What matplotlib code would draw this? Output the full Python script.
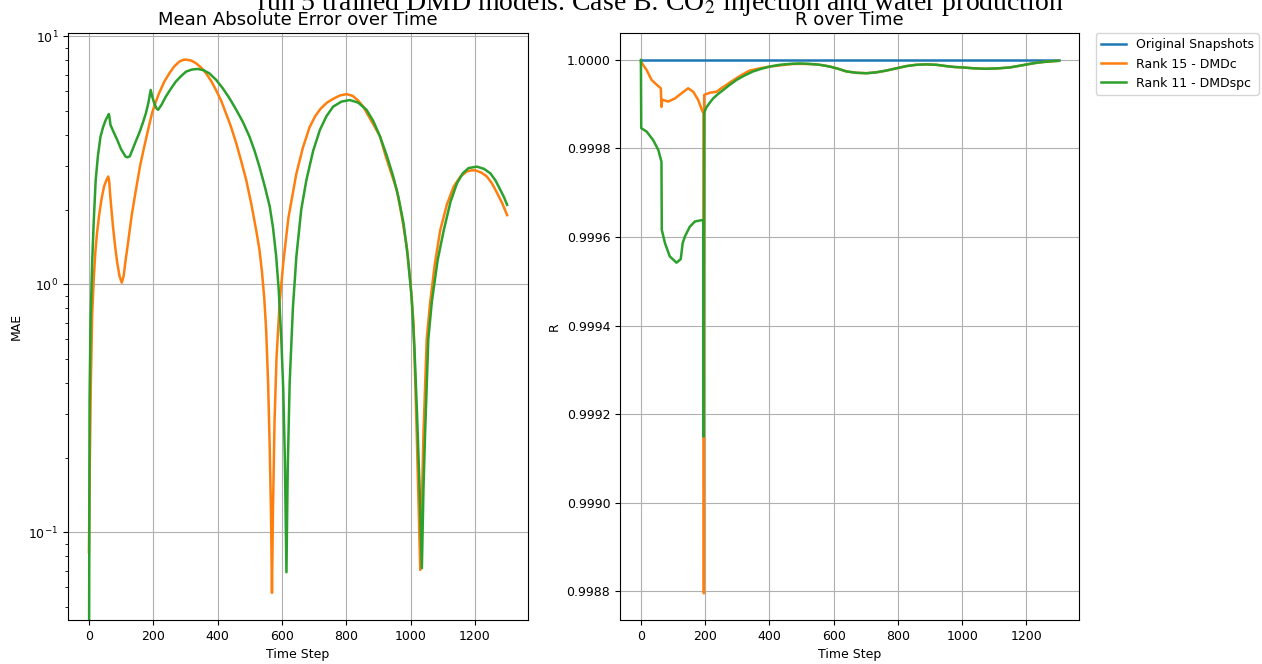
import matplotlib
matplotlib.use("Agg")
import matplotlib.pyplot as plt
from matplotlib.ticker import FormatStrFormatter

plt.rcParams['mathtext.fontset'] = 'stix'

# MAE per time step, rank 15 DMDc
mae_t_dmdc = [0, 3, 6, 10, 15, 20, 25, 31, 39, 47, 54, 60, 63, 66, 70, 75, 82, 88, 95, 102,
              108, 114, 120, 133, 146, 159, 172, 184, 196, 207, 218, 234, 250, 265, 281, 292,
              302, 318, 333, 349, 364, 380, 395, 411, 426, 442, 458, 473, 489, 505, 520, 530,
              538, 545, 551, 557, 562, 566, 569, 572, 577, 583, 593, 605, 620, 645, 665, 686,
              703, 720, 740, 760, 780, 801, 820, 837, 853, 870, 887, 905, 922, 940, 957, 972,
              988, 1000, 1009, 1019, 1030, 1040, 1050, 1061, 1075, 1092, 1113, 1134, 1155,
              1175, 1190, 1201, 1220, 1237, 1253, 1269, 1285, 1300]
mae_dmdc = [0.083, 0.20, 0.40, 0.75, 1.05, 1.35, 1.60, 1.87, 2.20, 2.48, 2.62, 2.72, 2.60, 2.30,
            2.00, 1.70, 1.40, 1.22, 1.08, 1.015, 1.08, 1.25, 1.42, 1.90, 2.40, 3.00, 3.59, 4.20,
            4.89, 5.40, 5.89, 6.55, 7.09, 7.55, 7.90, 8.02, 8.05, 7.98, 7.78, 7.47, 7.09, 6.60,
            6.07, 5.50, 4.89, 4.30, 3.70, 3.15, 2.63, 2.10, 1.65, 1.38, 1.12, 0.88, 0.65, 0.40,
            0.22, 0.12, 0.057, 0.12, 0.28, 0.50, 0.85, 1.25, 1.85, 2.80, 3.55, 4.30, 4.75,
            5.10, 5.40, 5.60, 5.77, 5.84, 5.75, 5.50, 5.20, 4.75, 4.35, 3.94, 3.30, 2.80, 2.40,
            1.90, 1.42, 1.00, 0.70, 0.25, 0.0705, 0.25, 0.60, 0.85, 1.20, 1.65, 2.10, 2.48,
            2.72, 2.85, 2.88, 2.88, 2.82, 2.72, 2.55, 2.33, 2.12, 1.90]

# MAE per time step, rank 11 DMDspc
mae_t_dmdspc = [0, 2, 5, 10, 15, 21, 28, 36, 44, 52, 58, 62, 64, 67, 77, 88, 100, 114, 120,
                127, 135, 145, 156, 167, 177, 185, 192, 197, 203, 210, 215, 226, 239, 255, 270,
                286, 302, 320, 338, 356, 374, 395, 416, 437, 458, 479, 499, 515, 530, 546, 562,
                572, 582, 590, 598, 604, 609, 614, 618, 624, 634, 645, 660, 676, 697, 718, 738,
                759, 785, 811, 837, 863, 884, 905, 926, 946, 962, 978, 991, 1003, 1012, 1020,
                1028, 1035, 1040, 1045, 1055, 1066, 1084, 1103, 1124, 1144, 1162, 1180, 1206,
                1228, 1248, 1264, 1279, 1290, 1300]
mae_dmdspc = [0.02, 0.34, 0.70, 1.22, 1.80, 2.63, 3.30, 3.94, 4.30, 4.59, 4.75, 4.86, 4.70,
              4.39, 4.10, 3.82, 3.50, 3.27, 3.25, 3.28, 3.48, 3.75, 4.06, 4.45, 4.89, 5.40,
              6.07, 5.70, 5.37, 5.12, 5.05, 5.30, 5.71, 6.15, 6.56, 6.90, 7.20, 7.34, 7.38,
              7.30, 7.09, 6.68, 6.17, 5.62, 5.05, 4.50, 3.94, 3.45, 2.98, 2.50, 2.06, 1.70,
              1.30, 0.95, 0.60, 0.38, 0.20, 0.069, 0.18, 0.40, 0.80, 1.30, 2.00, 2.63, 3.45,
              4.19, 4.75, 5.20, 5.45, 5.53, 5.40, 5.05, 4.55, 3.94, 3.30, 2.72, 2.25, 1.76,
              1.30, 0.89, 0.55, 0.30, 0.15, 0.0716, 0.15, 0.25, 0.60, 0.85, 1.25, 1.65, 2.15,
              2.55, 2.80, 2.94, 2.98, 2.92, 2.80, 2.62, 2.40, 2.25, 2.09]

# correlation coefficient R per time step
r_t_orig = [0, 1300]
r_orig = [1.0, 1.0]

r_t_dmdc = [0, 18, 33, 49, 62, 64, 66, 85, 106, 127, 147, 163, 178, 192, 195, 196, 197, 215,
            235, 250, 267, 283, 298, 318, 339, 370, 401, 437, 474, 510, 546, 575, 600, 614,
            640, 670, 702, 733, 764, 795, 826, 857, 889, 920, 951, 977, 1002, 1038, 1075,
            1112, 1148, 1180, 1210, 1236, 1262, 1300]
r_dmdc = [0.999996, 0.999977, 0.999955, 0.999944, 0.999936, 0.999894, 0.999910, 0.999906,
          0.999913, 0.999925, 0.999936, 0.999928, 0.999910, 0.999883, 0.999880, 0.998795,
          0.999921, 0.999926, 0.999928, 0.999936, 0.999944, 0.999952, 0.999959, 0.999968,
          0.999976, 0.999981, 0.999985, 0.999988, 0.999991, 0.999991, 0.999990, 0.999987,
          0.999983, 0.999980, 0.999974, 0.999971, 0.999970, 0.999972, 0.999976, 0.999981,
          0.999986, 0.999989, 0.999990, 0.999989, 0.999986, 0.999984, 0.999983, 0.999981,
          0.999980, 0.999981, 0.999983, 0.999987, 0.999991, 0.999994, 0.999996, 0.999998]

r_t_dmdspc = [0, 1, 18, 38, 54, 64, 65, 75, 90, 111, 124, 130, 137, 152, 168, 189, 194, 195,
              197, 203, 209, 217, 225, 240, 256, 277, 298, 323, 349, 375, 401, 432, 463, 495,
              526, 557, 588, 614, 640, 670, 702, 733, 764, 795, 826, 857, 889, 920, 951, 977,
              1002, 1038, 1075, 1112, 1148, 1180, 1210, 1236, 1262, 1300]
r_dmdspc = [1.0, 0.999846, 0.999838, 0.999819, 0.999797, 0.999770, 0.999616, 0.999586,
            0.999556, 0.999542, 0.999550, 0.999586, 0.999601, 0.999623, 0.999635, 0.999638,
            0.999638, 0.999149, 0.999880, 0.999892, 0.999898, 0.999906, 0.999913, 0.999923,
            0.999932, 0.999944, 0.999955, 0.999965, 0.999974, 0.999980, 0.999985, 0.999989,
            0.999991, 0.999992, 0.999991, 0.999989, 0.999985, 0.999980, 0.999974, 0.999971,
            0.999970, 0.999972, 0.999976, 0.999981, 0.999986, 0.999989, 0.999990, 0.999989,
            0.999986, 0.999984, 0.999983, 0.999981, 0.999980, 0.999981, 0.999983, 0.999987,
            0.999991, 0.999994, 0.999996, 0.999998]

fig = plt.figure(figsize=(12.62, 6.64), dpi=100)
ax1 = fig.add_axes([0.0539, 0.0663, 0.3645, 0.8836])
ax2 = fig.add_axes([0.4913, 0.0663, 0.3640, 0.8836])

# левый график: MAE в логарифмическом масштабе
ax1.plot(mae_t_dmdc, mae_dmdc, color='#ff7f0e', lw=1.8)
ax1.plot(mae_t_dmdspc, mae_dmdspc, color='#2ca02c', lw=1.8)
ax1.set_yscale('log')
ax1.set_ylim(0.0443, 10.28)
ax1.set_xlim(-65, 1365)
ax1.set_title('Mean Absolute Error over Time', fontsize=13)
ax1.set_xlabel('Time Step', fontsize=9)
ax1.set_ylabel('MAE', fontsize=9)
ax1.grid(True)
ax1.tick_params(labelsize=9)

# правый график: R
ax2.plot(r_t_orig, r_orig, color='#1f77b4', lw=1.8, label='Original Snapshots')
ax2.plot(r_t_dmdc, r_dmdc, color='#ff7f0e', lw=1.8, label='Rank 15 - DMDc')
ax2.plot(r_t_dmdspc, r_dmdspc, color='#2ca02c', lw=1.8, label='Rank 11 - DMDspc')
ax2.set_xlim(-65, 1365)
ax2.set_title('R over Time', fontsize=13)
ax2.set_xlabel('Time Step', fontsize=9)
ax2.set_ylabel('R', fontsize=9)
ax2.grid(True)
ax2.tick_params(labelsize=9)
ax2.yaxis.set_major_formatter(FormatStrFormatter('%.4f'))
ax2.legend(loc='upper left', bbox_to_anchor=(1.036, 1.0), borderaxespad=0, fontsize=9)

fig.text(0.523, 0.985, 'run 5 trained DMD models. Case B: CO$_2$ injection and water production',
         ha='center', va='baseline', fontsize=20, family='Liberation Serif')

fig.savefig('out.png', dpi=100)
